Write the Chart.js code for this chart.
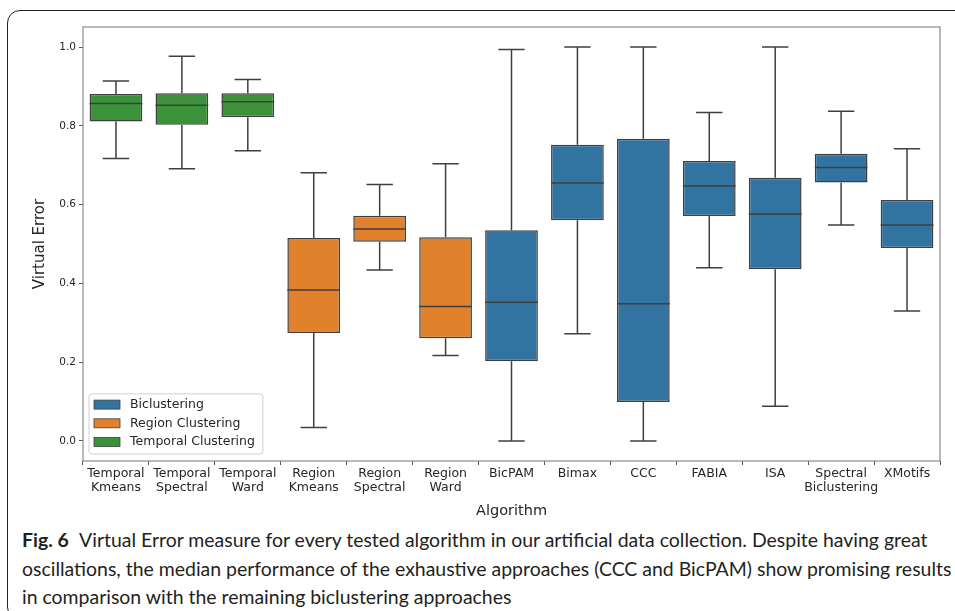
<!DOCTYPE html>
<html>
<head>
<meta charset="utf-8">
<script src="https://cdn.jsdelivr.net/npm/chart.js@4.4.1/dist/chart.umd.min.js"></script>
<style>
  html, body { margin: 0; padding: 0; background: #fff; overflow: hidden; }
  #wrap { position: relative; width: 955px; height: 611px; }
  #frame {
    position: absolute; left: 7px; top: 10px; width: 1000px; height: 610px;
    border: 1.5px solid #222; border-radius: 13px; box-sizing: border-box;
  }
  #chart { position: absolute; left: 0; top: 0; }
  #caption {
    position: absolute; left: 22px; top: 526px; white-space: nowrap;
    font-family: "Liberation Sans Narrow", Lato, "Open Sans", sans-serif;
    font-size: 19.45px; line-height: 28.5px; color: #231f20;
  }
  #caption b { font-weight: bold; margin-right: 6px; }
</style>
</head>
<body>
<div id="wrap">
  <div id="frame"></div>
  <canvas id="chart" width="955" height="525"></canvas>
  <div id="caption"><b>Fig. 6</b> Virtual Error measure for every tested algorithm in our artificial data collection. Despite having great<br>oscillations, the median performance of the exhaustive approaches (CCC and BicPAM) show promising results<br>in comparison with the remaining biclustering approaches</div>
</div>
<script>
// categories and groups
const algorithms = [
  ['Temporal', 'Kmeans'], ['Temporal', 'Spectral'], ['Temporal', 'Ward'],
  ['Region', 'Kmeans'], ['Region', 'Spectral'], ['Region', 'Ward'],
  'BicPAM', 'Bimax', 'CCC', 'FABIA', 'ISA', ['Spectral', 'Biclustering'], 'XMotifs'
];
const groups = [
  'Temporal Clustering', 'Temporal Clustering', 'Temporal Clustering',
  'Region Clustering', 'Region Clustering', 'Region Clustering',
  'Biclustering', 'Biclustering', 'Biclustering', 'Biclustering', 'Biclustering', 'Biclustering', 'Biclustering'
];
const legendGroups = ['Biclustering', 'Region Clustering', 'Temporal Clustering'];
const groupColors = ['#3274a1', '#e1812c', '#3a923a'];

// box plot statistics
const whiskerLow  = [0.717, 0.691, 0.737, 0.034, 0.434, 0.217, 0.000, 0.272, 0.000, 0.440, 0.088, 0.548, 0.330];
const q1          = [0.811, 0.803, 0.822, 0.274, 0.506, 0.261, 0.202, 0.560, 0.099, 0.571, 0.436, 0.656, 0.490];
const median      = [0.857, 0.852, 0.861, 0.383, 0.538, 0.341, 0.352, 0.655, 0.348, 0.647, 0.576, 0.694, 0.548];
const q3          = [0.881, 0.883, 0.883, 0.515, 0.572, 0.517, 0.535, 0.752, 0.767, 0.711, 0.668, 0.729, 0.612];
const whiskerHigh = [0.914, 0.977, 0.918, 0.681, 0.651, 0.704, 0.994, 1.000, 1.000, 0.834, 1.000, 0.837, 0.742];

const yTicks = [0.0, 0.2, 0.4, 0.6, 0.8, 1.0];

const lineColor = '#3f3f3f';
const textColor = '#262626';

const boxPlugin = {
  id: 'boxWhiskers',
  beforeDatasetsDraw(chart) {
    const ctx = chart.ctx;
    const y = chart.scales.y;
    const meta = chart.getDatasetMeta(0);
    ctx.save();
    ctx.strokeStyle = lineColor;
    ctx.lineWidth = 1.5;
    meta.data.forEach((bar, i) => {
      const x = bar.x;
      const cap = bar.width / 4;
      ctx.beginPath();
      ctx.moveTo(x, y.getPixelForValue(q3[i]));
      ctx.lineTo(x, y.getPixelForValue(whiskerHigh[i]));
      ctx.moveTo(x, y.getPixelForValue(q1[i]));
      ctx.lineTo(x, y.getPixelForValue(whiskerLow[i]));
      ctx.moveTo(x - cap, y.getPixelForValue(whiskerHigh[i]));
      ctx.lineTo(x + cap, y.getPixelForValue(whiskerHigh[i]));
      ctx.moveTo(x - cap, y.getPixelForValue(whiskerLow[i]));
      ctx.lineTo(x + cap, y.getPixelForValue(whiskerLow[i]));
      ctx.stroke();
    });
    ctx.restore();
  },
  afterDatasetsDraw(chart) {
    const ctx = chart.ctx;
    const y = chart.scales.y;
    const meta = chart.getDatasetMeta(0);
    const area = chart.chartArea;
    ctx.save();
    ctx.strokeStyle = lineColor;
    ctx.lineWidth = 1.5;
    meta.data.forEach((bar, i) => {
      const py = y.getPixelForValue(median[i]);
      ctx.beginPath();
      ctx.moveTo(bar.x - bar.width / 2, py);
      ctx.lineTo(bar.x + bar.width / 2, py);
      ctx.stroke();
    });

    // axes frame
    ctx.strokeStyle = '#8a8a8a';
    ctx.lineWidth = 1.2;
    ctx.strokeRect(area.left, area.top, area.right - area.left, area.bottom - area.top);

    // legend
    ctx.font = '12.5px "DejaVu Sans"';
    const textW = Math.max(...legendGroups.map(g => ctx.measureText(g).width));
    const boxL = area.left + 6, boxB = area.bottom - 7;
    const rowH = 18.7;
    const boxW = 5 + 26 + 10 + textW + 8;
    const boxH = 10.7 + rowH * 2 + 12;
    const boxT = boxB - boxH;
    ctx.fillStyle = 'rgba(255,255,255,0.8)';
    ctx.strokeStyle = '#d0d0d0';
    ctx.lineWidth = 1;
    ctx.beginPath();
    ctx.roundRect(boxL, boxT, boxW, boxH, 3);
    ctx.fill();
    ctx.stroke();
    legendGroups.forEach((g, k) => {
      const cy = boxT + 10.7 + k * rowH;
      ctx.fillStyle = groupColors[k];
      ctx.fillRect(boxL + 5, cy - 4.5, 26, 9);
      ctx.strokeStyle = lineColor;
      ctx.lineWidth = 0.8;
      ctx.strokeRect(boxL + 5, cy - 4.5, 26, 9);
      ctx.fillStyle = textColor;
      ctx.textBaseline = 'middle';
      ctx.fillText(g, boxL + 41, cy);
    });
    ctx.restore();
  }
};

new Chart(document.getElementById('chart'), {
  type: 'bar',
  data: {
    labels: algorithms,
    datasets: [{
      label: 'Virtual Error',
      data: algorithms.map((_, i) => [q1[i], q3[i]]),
      backgroundColor: groups.map(g => groupColors[legendGroups.indexOf(g)]),
      borderColor: lineColor,
      borderWidth: 1.5,
      borderSkipped: false,
      barPercentage: 0.8,
      categoryPercentage: 1.0
    }]
  },
  options: {
    responsive: false,
    animation: false,
    layout: { padding: { left: 0, top: 27, right: 15, bottom: 0 } },
    plugins: {
      legend: { display: false },
      tooltip: { enabled: false }
    },
    scales: {
      x: {
        grid: { drawOnChartArea: false, drawTicks: true, tickLength: 4, color: '#555' },
        border: { display: false },
        ticks: {
          color: textColor, padding: 2, autoSkip: false, maxRotation: 0,
          font: { family: 'DejaVu Sans', size: 12.5, lineHeight: 1.12 }
        },
        title: {
          display: true, text: 'Algorithm', color: textColor,
          font: { family: 'DejaVu Sans', size: 14.5 },
          padding: { top: 0, bottom: 5 }
        },
        afterFit(scale) { scale.height = 64; }
      },
      y: {
        min: -0.051,
        max: 1.051,
        grid: { drawOnChartArea: false, drawTicks: true, tickLength: 4, color: '#555' },
        border: { display: false },
        afterBuildTicks(scale) { scale.ticks = yTicks.map(v => ({ value: v })); },
        ticks: {
          color: textColor, padding: 3,
          font: { family: 'DejaVu Sans', size: 10.5 },
          callback: v => v.toFixed(1)
        },
        title: {
          display: true, text: 'Virtual Error', color: textColor,
          font: { family: 'DejaVu Sans', size: 15 },
          padding: { top: 31, bottom: 0 }
        },
        afterFit(scale) { scale.width = 83; }
      }
    }
  },
  plugins: [boxPlugin]
});
</script>
</body>
</html>
